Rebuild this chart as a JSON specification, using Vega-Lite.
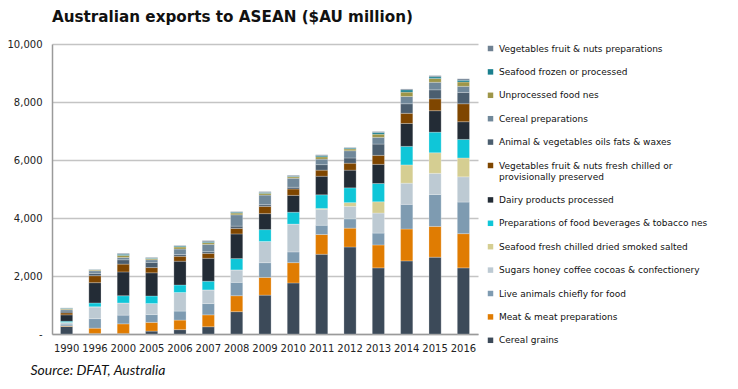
{
"$schema":"https://vega.github.io/schema/vega-lite/v6.json",
"width":426,"height":290,
"autosize":{"type":"none"},
"padding":{"left":52,"top":44,"right":260,"bottom":55},
"background":"white",
"title":{"text":"Australian exports to ASEAN ($AU million)","anchor":"start","frame":"group","font":"DejaVu Sans","fontSize":15.2,"fontWeight":"bold","color":"#111111","offset":14},
"config":{"view":{"stroke":null}},
"datasets":{
"cats":[{"c":"Cereal grains","o":1},{"c":"Meat & meat preparations","o":2},{"c":"Live animals chiefly for food","o":3},{"c":"Sugars honey coffee cocoas & confectionery","o":4},{"c":"Seafood fresh chilled dried smoked salted","o":5},{"c":"Preparations of food beverages & tobacco nes","o":6},{"c":"Dairy products processed","o":7},{"c":"Vegetables fruit & nuts fresh chilled or provisionally preserved","o":8},{"c":"Animal & vegetables oils fats & waxes","o":9},{"c":"Cereal preparations","o":10},{"c":"Unprocessed food nes","o":11},{"c":"Seafood frozen or processed","o":12},{"c":"Vegetables fruit & nuts preparations","o":13}],
"d":[
{"y":"1990","c":"Cereal grains","v":260},{"y":"1990","c":"Meat & meat preparations","v":20},{"y":"1990","c":"Live animals chiefly for food","v":60},{"y":"1990","c":"Sugars honey coffee cocoas & confectionery","v":50},{"y":"1990","c":"Seafood fresh chilled dried smoked salted","v":10},{"y":"1990","c":"Preparations of food beverages & tobacco nes","v":40},{"y":"1990","c":"Dairy products processed","v":220},{"y":"1990","c":"Vegetables fruit & nuts fresh chilled or provisionally preserved","v":70},{"y":"1990","c":"Animal & vegetables oils fats & waxes","v":60},{"y":"1990","c":"Cereal preparations","v":50},{"y":"1990","c":"Unprocessed food nes","v":30},{"y":"1990","c":"Seafood frozen or processed","v":20},{"y":"1990","c":"Vegetables fruit & nuts preparations","v":10},
{"y":"1996","c":"Cereal grains","v":20},{"y":"1996","c":"Meat & meat preparations","v":180},{"y":"1996","c":"Live animals chiefly for food","v":330},{"y":"1996","c":"Sugars honey coffee cocoas & confectionery","v":400},{"y":"1996","c":"Seafood fresh chilled dried smoked salted","v":10},{"y":"1996","c":"Preparations of food beverages & tobacco nes","v":130},{"y":"1996","c":"Dairy products processed","v":700},{"y":"1996","c":"Vegetables fruit & nuts fresh chilled or provisionally preserved","v":240},{"y":"1996","c":"Animal & vegetables oils fats & waxes","v":80},{"y":"1996","c":"Cereal preparations","v":90},{"y":"1996","c":"Unprocessed food nes","v":30},{"y":"1996","c":"Seafood frozen or processed","v":10},{"y":"1996","c":"Vegetables fruit & nuts preparations","v":10},
{"y":"2000","c":"Cereal grains","v":20},{"y":"2000","c":"Meat & meat preparations","v":330},{"y":"2000","c":"Live animals chiefly for food","v":300},{"y":"2000","c":"Sugars honey coffee cocoas & confectionery","v":420},{"y":"2000","c":"Seafood fresh chilled dried smoked salted","v":0},{"y":"2000","c":"Preparations of food beverages & tobacco nes","v":250},{"y":"2000","c":"Dairy products processed","v":820},{"y":"2000","c":"Vegetables fruit & nuts fresh chilled or provisionally preserved","v":270},{"y":"2000","c":"Animal & vegetables oils fats & waxes","v":150},{"y":"2000","c":"Cereal preparations","v":80},{"y":"2000","c":"Unprocessed food nes","v":70},{"y":"2000","c":"Seafood frozen or processed","v":40},{"y":"2000","c":"Vegetables fruit & nuts preparations","v":30},
{"y":"2005","c":"Cereal grains","v":100},{"y":"2005","c":"Meat & meat preparations","v":300},{"y":"2005","c":"Live animals chiefly for food","v":270},{"y":"2005","c":"Sugars honey coffee cocoas & confectionery","v":380},{"y":"2005","c":"Seafood fresh chilled dried smoked salted","v":0},{"y":"2005","c":"Preparations of food beverages & tobacco nes","v":260},{"y":"2005","c":"Dairy products processed","v":800},{"y":"2005","c":"Vegetables fruit & nuts fresh chilled or provisionally preserved","v":180},{"y":"2005","c":"Animal & vegetables oils fats & waxes","v":180},{"y":"2005","c":"Cereal preparations","v":90},{"y":"2005","c":"Unprocessed food nes","v":40},{"y":"2005","c":"Seafood frozen or processed","v":20},{"y":"2005","c":"Vegetables fruit & nuts preparations","v":20},
{"y":"2006","c":"Cereal grains","v":150},{"y":"2006","c":"Meat & meat preparations","v":330},{"y":"2006","c":"Live animals chiefly for food","v":310},{"y":"2006","c":"Sugars honey coffee cocoas & confectionery","v":640},{"y":"2006","c":"Seafood fresh chilled dried smoked salted","v":0},{"y":"2006","c":"Preparations of food beverages & tobacco nes","v":260},{"y":"2006","c":"Dairy products processed","v":820},{"y":"2006","c":"Vegetables fruit & nuts fresh chilled or provisionally preserved","v":170},{"y":"2006","c":"Animal & vegetables oils fats & waxes","v":60},{"y":"2006","c":"Cereal preparations","v":190},{"y":"2006","c":"Unprocessed food nes","v":70},{"y":"2006","c":"Seafood frozen or processed","v":30},{"y":"2006","c":"Vegetables fruit & nuts preparations","v":20},
{"y":"2007","c":"Cereal grains","v":250},{"y":"2007","c":"Meat & meat preparations","v":410},{"y":"2007","c":"Live animals chiefly for food","v":390},{"y":"2007","c":"Sugars honey coffee cocoas & confectionery","v":470},{"y":"2007","c":"Seafood fresh chilled dried smoked salted","v":0},{"y":"2007","c":"Preparations of food beverages & tobacco nes","v":300},{"y":"2007","c":"Dairy products processed","v":790},{"y":"2007","c":"Vegetables fruit & nuts fresh chilled or provisionally preserved","v":170},{"y":"2007","c":"Animal & vegetables oils fats & waxes","v":60},{"y":"2007","c":"Cereal preparations","v":250},{"y":"2007","c":"Unprocessed food nes","v":60},{"y":"2007","c":"Seafood frozen or processed","v":30},{"y":"2007","c":"Vegetables fruit & nuts preparations","v":40},
{"y":"2008","c":"Cereal grains","v":770},{"y":"2008","c":"Meat & meat preparations","v":550},{"y":"2008","c":"Live animals chiefly for food","v":460},{"y":"2008","c":"Sugars honey coffee cocoas & confectionery","v":430},{"y":"2008","c":"Seafood fresh chilled dried smoked salted","v":0},{"y":"2008","c":"Preparations of food beverages & tobacco nes","v":390},{"y":"2008","c":"Dairy products processed","v":850},{"y":"2008","c":"Vegetables fruit & nuts fresh chilled or provisionally preserved","v":190},{"y":"2008","c":"Animal & vegetables oils fats & waxes","v":80},{"y":"2008","c":"Cereal preparations","v":390},{"y":"2008","c":"Unprocessed food nes","v":60},{"y":"2008","c":"Seafood frozen or processed","v":30},{"y":"2008","c":"Vegetables fruit & nuts preparations","v":20},
{"y":"2009","c":"Cereal grains","v":1340},{"y":"2009","c":"Meat & meat preparations","v":610},{"y":"2009","c":"Live animals chiefly for food","v":510},{"y":"2009","c":"Sugars honey coffee cocoas & confectionery","v":730},{"y":"2009","c":"Seafood fresh chilled dried smoked salted","v":0},{"y":"2009","c":"Preparations of food beverages & tobacco nes","v":410},{"y":"2009","c":"Dairy products processed","v":550},{"y":"2009","c":"Vegetables fruit & nuts fresh chilled or provisionally preserved","v":250},{"y":"2009","c":"Animal & vegetables oils fats & waxes","v":60},{"y":"2009","c":"Cereal preparations","v":330},{"y":"2009","c":"Unprocessed food nes","v":60},{"y":"2009","c":"Seafood frozen or processed","v":30},{"y":"2009","c":"Vegetables fruit & nuts preparations","v":30},
{"y":"2010","c":"Cereal grains","v":1760},{"y":"2010","c":"Meat & meat preparations","v":700},{"y":"2010","c":"Live animals chiefly for food","v":370},{"y":"2010","c":"Sugars honey coffee cocoas & confectionery","v":960},{"y":"2010","c":"Seafood fresh chilled dried smoked salted","v":0},{"y":"2010","c":"Preparations of food beverages & tobacco nes","v":410},{"y":"2010","c":"Dairy products processed","v":580},{"y":"2010","c":"Vegetables fruit & nuts fresh chilled or provisionally preserved","v":220},{"y":"2010","c":"Animal & vegetables oils fats & waxes","v":60},{"y":"2010","c":"Cereal preparations","v":310},{"y":"2010","c":"Unprocessed food nes","v":50},{"y":"2010","c":"Seafood frozen or processed","v":20},{"y":"2010","c":"Vegetables fruit & nuts preparations","v":30},
{"y":"2011","c":"Cereal grains","v":2750},{"y":"2011","c":"Meat & meat preparations","v":680},{"y":"2011","c":"Live animals chiefly for food","v":320},{"y":"2011","c":"Sugars honey coffee cocoas & confectionery","v":550},{"y":"2011","c":"Seafood fresh chilled dried smoked salted","v":30},{"y":"2011","c":"Preparations of food beverages & tobacco nes","v":470},{"y":"2011","c":"Dairy products processed","v":640},{"y":"2011","c":"Vegetables fruit & nuts fresh chilled or provisionally preserved","v":210},{"y":"2011","c":"Animal & vegetables oils fats & waxes","v":190},{"y":"2011","c":"Cereal preparations","v":190},{"y":"2011","c":"Unprocessed food nes","v":80},{"y":"2011","c":"Seafood frozen or processed","v":40},{"y":"2011","c":"Vegetables fruit & nuts preparations","v":30},
{"y":"2012","c":"Cereal grains","v":3000},{"y":"2012","c":"Meat & meat preparations","v":650},{"y":"2012","c":"Live animals chiefly for food","v":320},{"y":"2012","c":"Sugars honey coffee cocoas & confectionery","v":430},{"y":"2012","c":"Seafood fresh chilled dried smoked salted","v":130},{"y":"2012","c":"Preparations of food beverages & tobacco nes","v":510},{"y":"2012","c":"Dairy products processed","v":610},{"y":"2012","c":"Vegetables fruit & nuts fresh chilled or provisionally preserved","v":240},{"y":"2012","c":"Animal & vegetables oils fats & waxes","v":180},{"y":"2012","c":"Cereal preparations","v":250},{"y":"2012","c":"Unprocessed food nes","v":60},{"y":"2012","c":"Seafood frozen or processed","v":30},{"y":"2012","c":"Vegetables fruit & nuts preparations","v":20},
{"y":"2013","c":"Cereal grains","v":2280},{"y":"2013","c":"Meat & meat preparations","v":790},{"y":"2013","c":"Live animals chiefly for food","v":410},{"y":"2013","c":"Sugars honey coffee cocoas & confectionery","v":690},{"y":"2013","c":"Seafood fresh chilled dried smoked salted","v":390},{"y":"2013","c":"Preparations of food beverages & tobacco nes","v":630},{"y":"2013","c":"Dairy products processed","v":660},{"y":"2013","c":"Vegetables fruit & nuts fresh chilled or provisionally preserved","v":310},{"y":"2013","c":"Animal & vegetables oils fats & waxes","v":390},{"y":"2013","c":"Cereal preparations","v":230},{"y":"2013","c":"Unprocessed food nes","v":110},{"y":"2013","c":"Seafood frozen or processed","v":60},{"y":"2013","c":"Vegetables fruit & nuts preparations","v":30},
{"y":"2014","c":"Cereal grains","v":2520},{"y":"2014","c":"Meat & meat preparations","v":1100},{"y":"2014","c":"Live animals chiefly for food","v":850},{"y":"2014","c":"Sugars honey coffee cocoas & confectionery","v":730},{"y":"2014","c":"Seafood fresh chilled dried smoked salted","v":630},{"y":"2014","c":"Preparations of food beverages & tobacco nes","v":640},{"y":"2014","c":"Dairy products processed","v":790},{"y":"2014","c":"Vegetables fruit & nuts fresh chilled or provisionally preserved","v":350},{"y":"2014","c":"Animal & vegetables oils fats & waxes","v":330},{"y":"2014","c":"Cereal preparations","v":250},{"y":"2014","c":"Unprocessed food nes","v":150},{"y":"2014","c":"Seafood frozen or processed","v":80},{"y":"2014","c":"Vegetables fruit & nuts preparations","v":30},
{"y":"2015","c":"Cereal grains","v":2650},{"y":"2015","c":"Meat & meat preparations","v":1060},{"y":"2015","c":"Live animals chiefly for food","v":1100},{"y":"2015","c":"Sugars honey coffee cocoas & confectionery","v":730},{"y":"2015","c":"Seafood fresh chilled dried smoked salted","v":710},{"y":"2015","c":"Preparations of food beverages & tobacco nes","v":710},{"y":"2015","c":"Dairy products processed","v":740},{"y":"2015","c":"Vegetables fruit & nuts fresh chilled or provisionally preserved","v":410},{"y":"2015","c":"Animal & vegetables oils fats & waxes","v":310},{"y":"2015","c":"Cereal preparations","v":260},{"y":"2015","c":"Unprocessed food nes","v":130},{"y":"2015","c":"Seafood frozen or processed","v":60},{"y":"2015","c":"Vegetables fruit & nuts preparations","v":40},
{"y":"2016","c":"Cereal grains","v":2280},{"y":"2016","c":"Meat & meat preparations","v":1180},{"y":"2016","c":"Live animals chiefly for food","v":1090},{"y":"2016","c":"Sugars honey coffee cocoas & confectionery","v":870},{"y":"2016","c":"Seafood fresh chilled dried smoked salted","v":650},{"y":"2016","c":"Preparations of food beverages & tobacco nes","v":640},{"y":"2016","c":"Dairy products processed","v":610},{"y":"2016","c":"Vegetables fruit & nuts fresh chilled or provisionally preserved","v":620},{"y":"2016","c":"Animal & vegetables oils fats & waxes","v":390},{"y":"2016","c":"Cereal preparations","v":210},{"y":"2016","c":"Unprocessed food nes","v":150},{"y":"2016","c":"Seafood frozen or processed","v":60},{"y":"2016","c":"Vegetables fruit & nuts preparations","v":50}
]},
"data":{"name":"d"},
"transform":[{"lookup":"c","from":{"data":{"name":"cats"},"key":"c","fields":["o"]}}],
"mark":{"type":"bar","stroke":"#ffffff","strokeWidth":0.4,"strokeOpacity":0.6},
"encoding":{
"x":{"field":"y","type":"nominal","scale":{"paddingInner":0.57,"paddingOuter":0.3},
 "axis":{"labelAngle":0,"ticks":false,"domainColor":"#9a9a9a","domainWidth":1.5,"labelFont":"DejaVu Sans","labelFontSize":10,"labelColor":"#222222","labelPadding":9,
 "title":"Source: DFAT, Australia","titleFont":"Lato","titleFontStyle":"italic","titleFontWeight":"normal","titleFontSize":14,"titleColor":"#111111","titleAnchor":"start","titleAlign":"left","titleX":-22,"titleY":40,"titleBaseline":"alphabetic"}},
"y":{"field":"v","type":"quantitative","stack":"zero","scale":{"domain":[0,10000],"nice":false},
 "axis":{"title":null,"values":[0,2000,4000,6000,8000,10000],"labelExpr":"datum.value == 0 ? '-' : format(datum.value, ',')","ticks":false,"domainColor":"#9a9a9a","domainWidth":1.5,"gridColor":"#c4c4c4","gridWidth":1.5,"labelFont":"DejaVu Sans","labelFontSize":10,"labelColor":"#222222","labelPadding":10}},
"order":{"field":"o","type":"quantitative","sort":"ascending"},
"color":{"field":"c","type":"nominal",
 "sort":["Vegetables fruit & nuts preparations","Seafood frozen or processed","Unprocessed food nes","Cereal preparations","Animal & vegetables oils fats & waxes","Vegetables fruit & nuts fresh chilled or provisionally preserved","Dairy products processed","Preparations of food beverages & tobacco nes","Seafood fresh chilled dried smoked salted","Sugars honey coffee cocoas & confectionery","Live animals chiefly for food","Meat & meat preparations","Cereal grains"],
 "scale":{"range":["#6f8192","#1a7f8e","#9e9648","#70889a","#4b5e6f","#7f4600","#232c36","#0fc6d8","#d5ce92","#bdcad3","#7e9bb1","#e07c02","#3c4a59"]},
 "legend":{"title":null,"orient":"right","offset":8,"symbolType":"square","symbolSize":30,"symbolStrokeWidth":0,"labelFont":"DejaVu Sans","labelFontSize":9,"labelColor":"#111111","labelLimit":300,"rowPadding":13.4,
 "labelExpr":"datum.label == 'Vegetables fruit & nuts fresh chilled or provisionally preserved' ? ['Vegetables fruit & nuts fresh chilled or','provisionally preserved'] : datum.label"}}
}
}
